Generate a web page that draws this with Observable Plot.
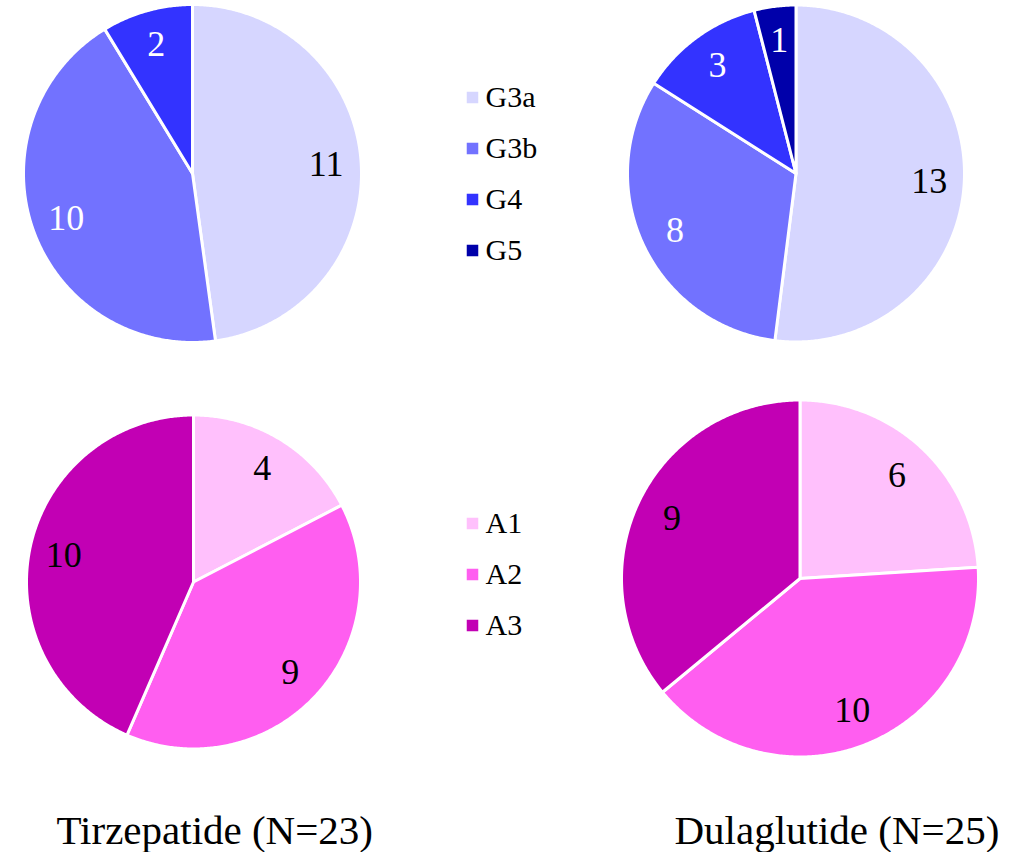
<!DOCTYPE html>
<html>
<head>
<meta charset="utf-8">
<script src="https://cdn.jsdelivr.net/npm/d3@7"></script>
<script src="https://cdn.jsdelivr.net/npm/@observablehq/plot@0.6"></script>
<style>
  html, body { margin: 0; padding: 0; background: #fff; }
  #chart svg { display: block; }
</style>
</head>
<body>
<div id="chart"></div>
<script>
// eGFR stages (G) and albuminuria stages (A), patient counts per treatment arm
const gfrStages = ["G3a", "G3b", "G4", "G5"];
const tirzepatideGfr = [11, 10, 2, 0];
const dulaglutideGfr = [13, 8, 3, 1];

const albStages = ["A1", "A2", "A3"];
const tirzepatideAlb = [4, 9, 10];
const dulaglutideAlb = [6, 10, 9];

const drugLabels = ["Tirzepatide (N=23)", "Dulaglutide (N=25)"];

// Palette
const gfrColors = ["#d6d6ff", "#7272ff", "#3333ff", "#0000aa"];
const albColors = ["#ffc0fc", "#ff5ef0", "#c200b4"];
const whiteLabelStages = ["G3b", "G4", "G5"];

// Layout
const W = 1031, H = 852;
const fontStack = "Liberation Serif, Tinos, Times New Roman, Times, Nimbus Roman, Nimbus Roman No9 L, FreeSerif, Noto Serif, Noto Serif CJK SC, Noto Serif CJK JP, DejaVu Serif, serif";
const strokeW = 3;
const panels = [
  {id: "tz-g", stages: gfrStages, values: tirzepatideGfr, cx: 192,   cy: 173,   r: 167.5},
  {id: "dg-g", stages: gfrStages, values: dulaglutideGfr, cx: 795.5, cy: 173,   r: 167},
  {id: "tz-a", stages: albStages, values: tirzepatideAlb, cx: 193,   cy: 581.5, r: 165.5},
  {id: "dg-a", stages: albStages, values: dulaglutideAlb, cx: 799.5, cy: 578,   r: 177}
];
const labelRadius = 0.8;
const titleX = [56, 674], titleBaseline = 843;
const legendX = 472, legendTextX = 485, legendStep = 51;
const legendTop = {G: 97, A: 523};

// Slice outlines and value label anchors from d3.pie angles (12 o'clock, clockwise)
const pie = d3.pie().sort(null).value(d => d.value);
const slicePoints = [];
const sliceLabels = [];
for (const p of panels) {
  const arcs = pie(p.stages.map((stage, i) => ({stage, value: p.values[i]})));
  for (const a of arcs) {
    if (a.data.value <= 0) continue;
    const id = `${p.id}-${a.data.stage}`;
    const R = p.r + strokeW / 2;
    const steps = Math.max(2, Math.ceil((a.endAngle - a.startAngle) / (Math.PI / 360)));
    slicePoints.push({id, stage: a.data.stage, x: p.cx, y: p.cy});
    for (let k = 0; k <= steps; ++k) {
      const t = a.startAngle + (a.endAngle - a.startAngle) * k / steps;
      slicePoints.push({id, stage: a.data.stage, x: p.cx + R * Math.sin(t), y: p.cy - R * Math.cos(t)});
    }
    slicePoints.push({id, stage: a.data.stage, x: p.cx, y: p.cy});
    const mid = (a.startAngle + a.endAngle) / 2;
    const lr = labelRadius * p.r;
    sliceLabels.push({stage: a.data.stage, value: a.data.value,
      x: p.cx + lr * Math.sin(mid), y: p.cy - lr * Math.cos(mid)});
  }
}

// Legend entries
const legendRows = [
  ...gfrStages.map((stage, i) => ({stage, y: legendTop.G + i * legendStep})),
  ...albStages.map((stage, i) => ({stage, y: legendTop.A + i * legendStep}))
];

const chart = Plot.plot({
  width: W,
  height: H,
  margin: 0,
  x: {domain: [0, W], range: [0, W], axis: null},
  y: {domain: [0, H], range: [0, H], axis: null},
  color: {type: "ordinal", domain: [...gfrStages, ...albStages], range: [...gfrColors, ...albColors]},
  style: {background: "#fff", color: "#000"},
  marks: [
    Plot.line(slicePoints, {
      x: "x", y: "y", z: "id", fill: "stage",
      stroke: "white", strokeWidth: strokeW, strokeLinejoin: "round"
    }),
    Plot.text(sliceLabels, {
      filter: d => whiteLabelStages.includes(d.stage),
      x: "x", y: "y", text: d => String(d.value), fill: "white", fontSize: 36, fontFamily: fontStack
    }),
    Plot.text(sliceLabels, {
      filter: d => !whiteLabelStages.includes(d.stage),
      x: "x", y: "y", text: d => String(d.value), fill: "black", fontSize: 36, fontFamily: fontStack
    }),
    Plot.dot(legendRows, {
      x: () => legendX, y: "y", fill: "stage", symbol: "square", r: 6.5, stroke: "none"
    }),
    Plot.text(legendRows, {
      x: () => legendTextX, y: "y", text: "stage", textAnchor: "start", fontSize: 30, fill: "black", fontFamily: fontStack
    }),
    Plot.text(drugLabels, {
      x: (d, i) => titleX[i], y: () => titleBaseline, text: d => d,
      textAnchor: "start", lineAnchor: "bottom", fontSize: 41, fill: "black", fontFamily: fontStack
    })
  ]
});

document.getElementById("chart").append(chart);
</script>
</body>
</html>
